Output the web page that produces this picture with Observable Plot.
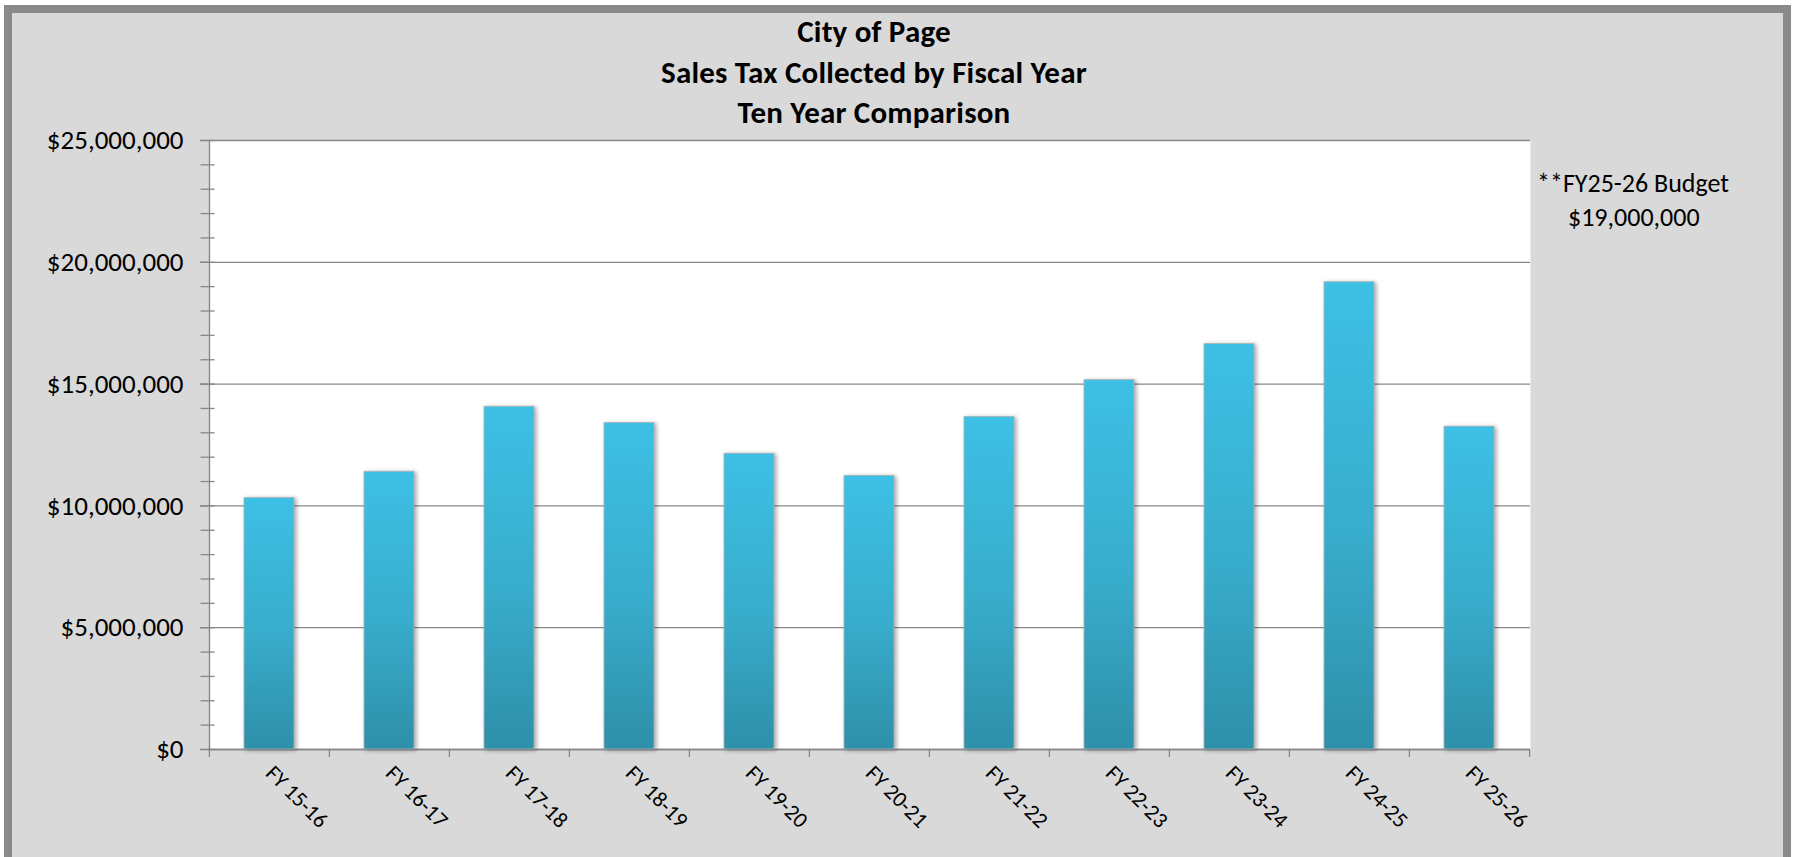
<!DOCTYPE html>
<html>
<head>
<meta charset="utf-8">
<script src="https://cdn.jsdelivr.net/npm/d3@7"></script>
<script src="https://cdn.jsdelivr.net/npm/@observablehq/plot@0.6"></script>
<style>
  html, body { margin: 0; padding: 0; background: #ffffff; overflow: hidden; }
  #wrap { position: relative; width: 1803px; height: 857px; overflow: hidden; background: #ffffff; }
  #frame { position: absolute; left: 4px; top: 5px; width: 1787px; height: 870px; box-sizing: border-box;
           border: 8px solid #8a8a8a; background: #d9d9d9; }
  #chart { position: absolute; left: 0; top: 0; }
  #title { position: absolute; left: 874px; top: 11px; transform: translateX(-50%); text-align: center;
           font-family: Carlito, Calibri, Lato, "Open Sans", sans-serif; font-weight: bold; font-size: 31px;
           line-height: 40.5px; color: #000; white-space: nowrap; letter-spacing: 0.2px; }
  #note { position: absolute; left: 1537px; top: 166px; font-family: Carlito, Calibri, Lato, "Open Sans", sans-serif;
          font-size: 26px; line-height: 34px; color: #000; white-space: nowrap; }
  #note .l2 { padding-left: 31px; }
  g[aria-label="bar"] rect { filter: drop-shadow(2px 1px 2px rgba(0,0,0,0.35)); }
  svg text { font-family: Carlito, Calibri, Lato, "Open Sans", sans-serif; }
</style>
</head>
<body>
<div id="wrap">
  <div id="frame"></div>
  <div id="chart"></div>
  <div id="title"></div>
  <div id="note"></div>
</div>
<script>
// ---- data ----
const titleLines = ["City of Page", "Sales Tax Collected by Fiscal Year", "Ten Year Comparison"];
const categories = ["FY 15-16", "FY 16-17", "FY 17-18", "FY 18-19", "FY 19-20", "FY 20-21",
                    "FY 21-22", "FY 22-23", "FY 23-24", "FY 24-25", "FY 25-26"];
const salesTax = [10320000, 11400000, 14070000, 13400000, 12140000, 11230000,
                  13650000, 15160000, 16640000, 19180000, 13250000];
const yMajorTicks = [0, 5000000, 10000000, 15000000, 20000000, 25000000];
const yMinorTicks = d3.range(0, 25000001, 1000000);
const noteLines = ["**FY25-26 Budget", "$19,000,000"];

// ---- layout ----
const W = 1803, H = 857;
const mL = 208, mR = 273, mT = 140, mB = 108;
const plotW = W - mL - mR, plotH = H - mT - mB;
const step = plotW / categories.length;
const grey = "#878787";

const data = categories.map((c, i) => ({cat: c, value: salesTax[i]}));

const defs = () => {
  const d = d3.create("svg:defs");
  const g = d.append("linearGradient").attr("id", "barGrad")
    .attr("x1", 0).attr("y1", 0).attr("x2", 0).attr("y2", 1);
  g.append("stop").attr("offset", "0%").attr("stop-color", "#3dc0e5");
  g.append("stop").attr("offset", "55%").attr("stop-color", "#38accb");
  g.append("stop").attr("offset", "100%").attr("stop-color", "#2e8fa8");
  return d.node();
};

const chart = Plot.plot({
  width: W, height: H,
  marginLeft: mL, marginRight: mR, marginTop: mT, marginBottom: mB,
  style: {background: "transparent", overflow: "visible"},
  x: {domain: categories, paddingInner: 0.58, paddingOuter: 0.29, axis: null},
  y: {domain: [0, 25000000], axis: null},
  marks: [
    defs,
    Plot.frame({fill: "white", stroke: null}),
    Plot.gridY(yMajorTicks, {stroke: grey, strokeOpacity: 1, strokeWidth: 1.3}),
    // minor / crossing ticks on the y axis
    Plot.ruleY(yMinorTicks, {stroke: grey, strokeWidth: 1.3, insetRight: plotW - 14, dx: -7.5}),
    // left axis line
    Plot.ruleX([categories[0]], {stroke: grey, strokeWidth: 1.5, dx: -step / 2}),
    // bottom axis line
    Plot.ruleY([0], {stroke: grey, strokeWidth: 1.5}),
    // x boundary ticks
    Plot.ruleX(categories, {stroke: grey, strokeWidth: 1.3, dx: -step / 2, insetTop: plotH - 8, dy: 8}),
    Plot.ruleX([categories[categories.length - 1]], {stroke: grey, strokeWidth: 1.3, dx: step / 2, insetTop: plotH - 8, dy: 8}),
    Plot.barY(data, {x: "cat", y: "value", fill: "url(#barGrad)", stroke: "#a9b4b8", strokeWidth: 0.8}),
    Plot.axisY(yMajorTicks, {tickFormat: d3.format("$,"), tickSize: 8, tickPadding: 17, fontSize: 27,
      stroke: grey, fill: "#000", strokeWidth: 1.3, label: null}),
    Plot.axisX({tickSize: 0, tickPadding: 20, tickRotate: 45, fontSize: 22, fill: "#000", label: null})
  ]
});
document.getElementById("chart").appendChild(chart);

document.getElementById("title").innerHTML = titleLines.map(t => `<div>${t}</div>`).join("");
document.getElementById("note").innerHTML =
  `<div>${noteLines[0]}</div><div class="l2">${noteLines[1]}</div>`;
</script>
</body>
</html>
